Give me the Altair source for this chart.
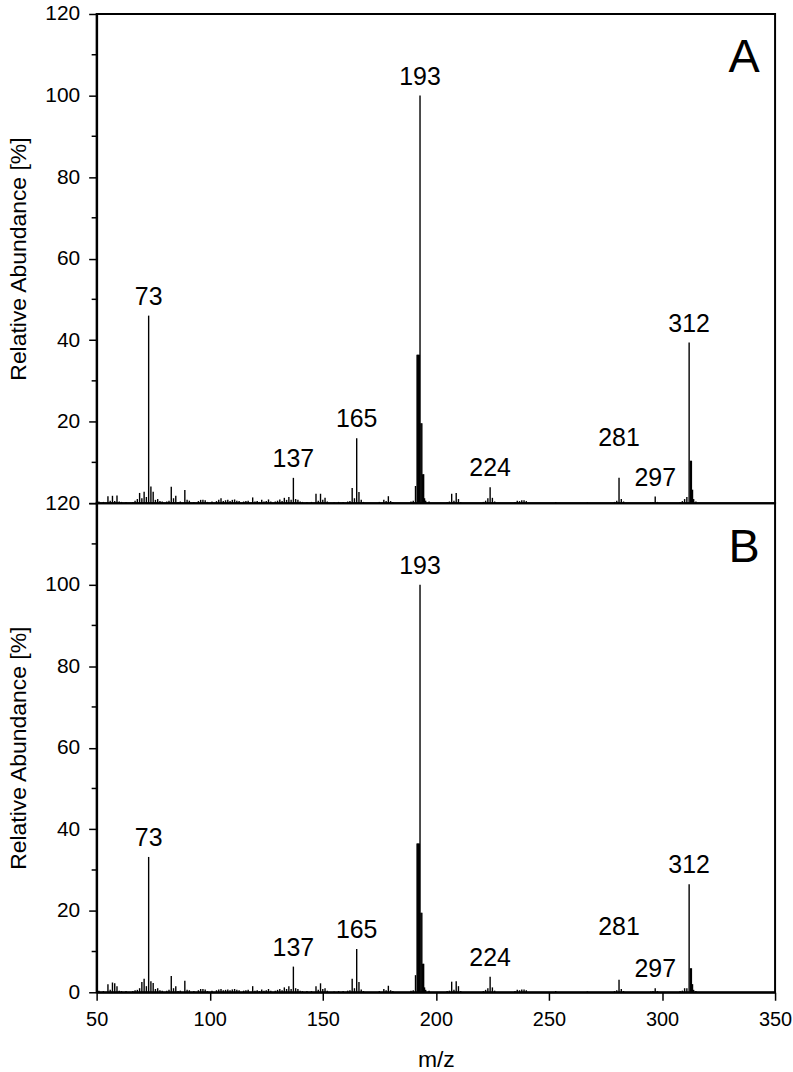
import altair as alt
import pandas as pd

FONT = "Liberation Sans"

# m/z positions of the recorded ions (a few sub-unit readings inside dense clusters)
mz = [
    51, 53, 55, 56, 57, 58, 59, 60, 61, 63,
    66, 67, 68, 69, 70, 71, 72, 73, 74, 75,
    76, 77, 78, 79, 81, 82, 83, 84, 85, 86,
    87, 89, 90, 91, 93, 95, 96, 97, 98, 99,
    101, 103, 104, 105, 106, 107, 108, 109, 110, 111,
    112, 113, 115, 116, 117, 119, 120, 121, 122, 123,
    124, 125, 126, 127, 129, 130, 131, 132, 133, 134,
    135, 136, 137, 138, 139, 140, 141, 143, 145, 147,
    148, 149, 150, 151, 152, 155, 157, 159, 161, 162,
    163, 164, 165, 166, 167, 168, 175, 177, 178, 179,
    180, 181, 189, 190, 191, 191.7, 192.0, 192.35, 192.7, 193,
    193.4, 193.8, 194.2, 194.6, 195.0, 195.5, 197, 205, 206, 207,
    208, 209, 210, 211, 221, 222, 223, 224, 225, 226,
    235, 236, 237, 238, 239, 240, 253, 267, 279, 280,
    281, 282, 283, 295, 296, 297, 298, 308, 309, 310,
    311, 312, 312.6, 313.0, 313.5, 314, 315,
]

# relative abundance [%], spectrum A
abund_a = [
    0.4, 0.3, 1.7, 0.6, 1.8, 0.5, 1.9, 0.4, 0.3, 0.3,
    0.3, 0.6, 1.0, 2.5, 1.2, 2.8, 1.5, 46.0, 4.1, 2.8,
    0.8, 1.0, 0.5, 0.4, 0.4, 0.6, 4.0, 1.2, 1.8, 0.3,
    0.4, 3.2, 0.8, 0.6, 0.3, 0.5, 0.8, 0.8, 0.7, 0.3,
    0.4, 0.5, 0.8, 1.2, 0.5, 0.7, 0.8, 0.5, 0.8, 0.9,
    0.6, 0.5, 0.4, 0.5, 0.6, 1.4, 0.4, 0.5, 0.3, 0.8,
    0.4, 0.5, 0.9, 0.4, 0.4, 0.6, 0.9, 0.5, 1.3, 0.8,
    1.5, 0.8, 6.2, 1.0, 0.8, 0.4, 0.3, 0.3, 0.3, 2.3,
    0.6, 2.3, 0.8, 1.3, 0.4, 0.2, 0.3, 0.3, 0.4, 0.5,
    3.7, 1.2, 15.9, 2.7, 0.8, 0.3, 0.3, 0.8, 0.5, 1.7,
    0.5, 0.3, 0.4, 0.6, 4.2, 36.4, 36.4, 36.4, 36.4, 100.0,
    19.6, 19.6, 7.1, 7.1, 1.2, 0.6, 0.4, 0.3, 0.4, 2.3,
    0.6, 2.5, 1.0, 0.3, 0.3, 0.6, 1.2, 3.9, 1.3, 0.4,
    0.3, 0.6, 0.5, 0.7, 0.7, 0.5, 0.3, 0.2, 0.3, 0.6,
    6.2, 1.0, 0.4, 0.2, 0.3, 1.6, 0.3, 0.3, 0.5, 1.0,
    1.5, 39.4, 10.4, 10.4, 3.3, 1.0, 0.4,
]

# relative abundance [%], spectrum B
abund_b = [
    0.4, 0.3, 2.0, 0.6, 2.4, 2.2, 1.5, 0.4, 0.3, 0.3,
    0.3, 0.5, 0.6, 1.0, 2.5, 3.3, 1.5, 33.2, 2.7, 2.3,
    0.8, 1.0, 0.5, 0.4, 0.4, 0.6, 4.0, 1.0, 1.5, 0.3,
    0.4, 2.8, 0.6, 0.5, 0.3, 0.5, 0.8, 0.8, 0.7, 0.3,
    0.4, 0.5, 0.7, 0.8, 0.5, 0.6, 0.7, 0.5, 0.7, 0.8,
    0.6, 0.5, 0.4, 0.5, 0.6, 1.5, 0.4, 0.5, 0.3, 0.7,
    0.4, 0.5, 0.8, 0.4, 0.4, 0.6, 0.8, 0.5, 1.2, 0.8,
    1.5, 0.8, 6.3, 1.0, 0.8, 0.4, 0.3, 0.3, 0.3, 1.5,
    0.6, 2.2, 0.8, 1.0, 0.4, 0.2, 0.3, 0.3, 0.4, 0.5,
    3.3, 1.0, 10.6, 2.5, 0.7, 0.3, 0.3, 0.8, 0.5, 1.6,
    0.5, 0.3, 0.4, 0.5, 4.2, 36.5, 36.5, 36.5, 36.5, 100.0,
    19.5, 19.5, 7.0, 7.0, 1.2, 0.6, 0.4, 0.3, 0.4, 2.6,
    0.6, 2.7, 1.5, 0.3, 0.3, 0.6, 1.0, 3.8, 1.2, 0.4,
    0.3, 0.6, 0.5, 0.7, 0.7, 0.5, 0.3, 0.2, 0.3, 0.5,
    3.1, 0.8, 0.3, 0.2, 0.3, 1.0, 0.3, 0.3, 0.4, 1.0,
    1.0, 26.5, 5.9, 5.9, 2.0, 0.6, 0.3,
]

peak_labels = [73, 137, 165, 193, 224, 281, 297, 312]
y_major = [0, 20, 40, 60, 80, 100, 120]
y_minor = [10, 30, 50, 70, 90, 110]
x_ticks = [50, 100, 150, 200, 250, 300, 350]

PLOT_W = 681
PLOT_H = 491

x_scale = alt.Scale(domain=[50, 350], nice=False, zero=False)
y_scale = alt.Scale(domain=[0, 120], nice=False)


def panel(abund, letter, bottom):
    spec = pd.DataFrame({"mz": mz, "abund": abund})
    lookup = dict(zip(mz, abund))
    lab = pd.DataFrame({"mz": peak_labels})
    lab["abund"] = [lookup[m] for m in peak_labels]
    lab["text"] = lab["mz"].astype(str)
    # the 281 label sits higher than its small peak
    lab["abund"] = [max(v, 11.3) if m == 281 else v for m, v in zip(lab["mz"], lab["abund"])]

    y_axis = alt.Axis(
        values=y_major,
        title="Relative Abundance [%]",
        tickSize=8,
        labelPadding=9,
        titlePadding=14,
        labelFontSize=21,
        labelExpr="datum.value === 0 ? '' : datum.label" if not bottom else "datum.label",
    )
    if bottom:
        x_axis = alt.Axis(values=x_ticks, title="m/z", tickSize=8, labelPadding=9,
                          titlePadding=20, format="d")
    else:
        x_axis = None

    def xe(field):
        return alt.X(field, scale=x_scale, axis=x_axis)

    def ye(field):
        return alt.Y(field, scale=y_scale, axis=y_axis)

    sticks = alt.Chart(spec).mark_rule(color="black", strokeWidth=1.4).encode(
        x=xe("mz:Q"), y=ye("abund:Q"), y2=alt.datum(0)
    )
    labels = alt.Chart(lab).mark_text(
        font=FONT, fontSize=25, dy=-11, baseline="alphabetic", color="black"
    ).encode(x=xe("mz:Q"), y=ye("abund:Q"), text="text:N")
    minor = alt.Chart(pd.DataFrame({"abund": y_minor})).mark_rule(
        color="black", strokeWidth=1.5
    ).encode(y=ye("abund:Q"), x=alt.value(-5), x2=alt.value(0))
    tag = alt.Chart(pd.DataFrame({"t": [letter]})).mark_text(
        font=FONT, fontSize=47, align="center", baseline="alphabetic", color="black"
    ).encode(text="t:N", x=alt.value(650), y=alt.value(58.6))

    return alt.layer(sticks, labels, minor, tag).properties(width=PLOT_W, height=PLOT_H)


chart = (
    alt.vconcat(panel(abund_a, "A", False), panel(abund_b, "B", True), spacing=0, bounds="flush")
    .configure_view(stroke="black", strokeWidth=2)
    .configure_axis(
        labelFont=FONT, labelFontSize=20, labelColor="black",
        titleFont=FONT, titleFontSize=23, titleFontWeight="normal", titleColor="black",
        tickColor="black", tickWidth=1.5, domainColor="black", domainWidth=2,
        grid=False, labelFlush=False, labelOverlap=False,
    )
    .properties(padding={"left": 6, "top": 0, "right": 0, "bottom": 0}, background="white")
)

chart.save("out.html", embed_options={"renderer": "svg", "actions": False})
